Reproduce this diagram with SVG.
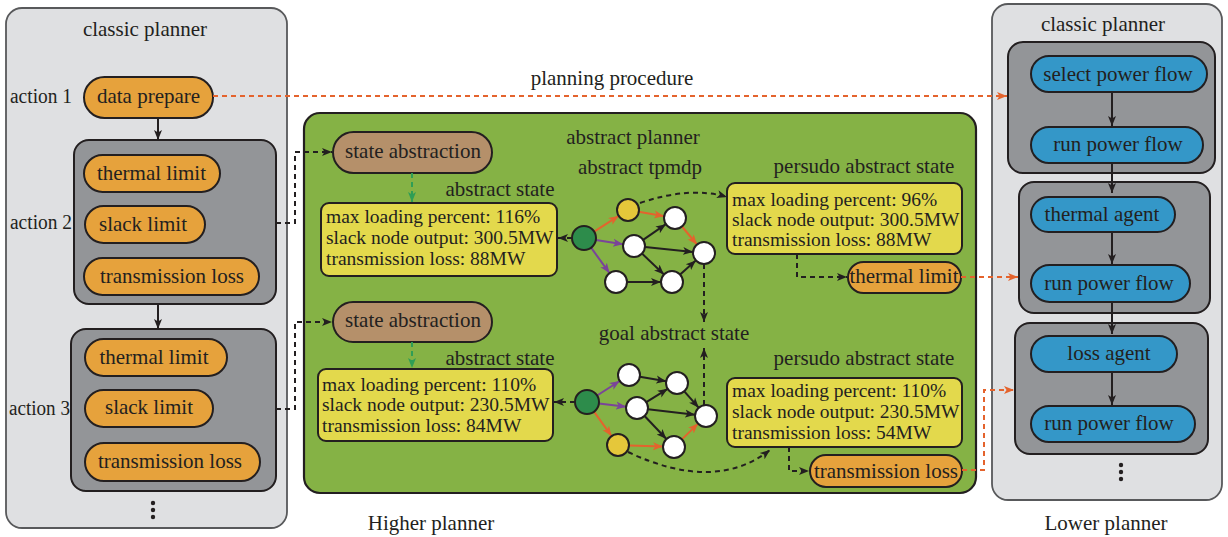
<svg xmlns="http://www.w3.org/2000/svg" width="1228" height="537" viewBox="0 0 1228 537">
  <style>
    text { font-family: "Liberation Serif", "Times New Roman", serif; fill: #231f20; }
    .lbl { font-size: 21px; }
    .act { font-size: 20px; }
    .mid { text-anchor: middle; }
    .info { font-size: 19.5px; }
    .panel { fill: #dfe0e2; stroke: #58595b; stroke-width: 1.8; }
    .gbox { fill: #939598; stroke: #231f20; stroke-width: 2; }
    .orange { fill: #e6a23c; stroke: #231f20; stroke-width: 2; }
    .blue { fill: #3497c8; stroke: #231f20; stroke-width: 2; }
    .brown { fill: #b5906a; stroke: #231f20; stroke-width: 2; }
    .yellow { fill: #e3d94c; stroke: #231f20; stroke-width: 2; }
    .green { fill: #85b245; stroke: #231f20; stroke-width: 2.2; }
    .node { fill: #ffffff; stroke: #231f20; stroke-width: 2; }
    .start { fill: #2d8c4b; stroke: #231f20; stroke-width: 2; }
    .mark { fill: #e5c73a; stroke: #231f20; stroke-width: 2; }
    .solid { fill: none; stroke: #231f20; stroke-width: 2; marker-end: url(#ah-black); }
    .dash { fill: none; stroke: #231f20; stroke-width: 2; stroke-dasharray: 5 4; marker-end: url(#ah-black); }
    .odash { fill: none; stroke: #e4632d; stroke-width: 2; stroke-dasharray: 5 4; marker-end: url(#ah-orange); }
    .gdash { fill: none; stroke: #2f9e55; stroke-width: 2; stroke-dasharray: 5 4; marker-end: url(#ah-green); }
    .e-black { fill: none; stroke: #231f20; stroke-width: 2; marker-end: url(#ah-black); }
    .e-orange { fill: none; stroke: #e4632d; stroke-width: 2; marker-end: url(#ah-orange); }
    .e-purple { fill: none; stroke: #7a4499; stroke-width: 2; marker-end: url(#ah-purple); }
    .dot { fill: #231f20; }
  </style>
  <defs>
    <marker id="ah-black" markerUnits="userSpaceOnUse" markerWidth="10" markerHeight="10" viewBox="0 0 10 10" refX="10" refY="5" orient="auto">
      <path d="M0,1 L10,5 L0,9 L2.5,5 Z" fill="#231f20"/>
    </marker>
    <marker id="ah-orange" markerUnits="userSpaceOnUse" markerWidth="10" markerHeight="10" viewBox="0 0 10 10" refX="10" refY="5" orient="auto">
      <path d="M0,1 L10,5 L0,9 L2.5,5 Z" fill="#e4632d"/>
    </marker>
    <marker id="ah-green" markerUnits="userSpaceOnUse" markerWidth="10" markerHeight="10" viewBox="0 0 10 10" refX="10" refY="5" orient="auto">
      <path d="M0,1 L10,5 L0,9 L2.5,5 Z" fill="#2f9e55"/>
    </marker>
    <marker id="ah-purple" markerUnits="userSpaceOnUse" markerWidth="10" markerHeight="10" viewBox="0 0 10 10" refX="10" refY="5" orient="auto">
      <path d="M0,1 L10,5 L0,9 L2.5,5 Z" fill="#7a4499"/>
    </marker>
  </defs>

  <!-- Higher planner: classic planner column -->
  <g id="left-planner">
    <rect class="panel" x="6" y="8" width="281" height="520" rx="16"/>
    <text class="lbl mid" x="145" y="36">classic planner</text>
    <text class="act" x="10" y="103" textLength="62" lengthAdjust="spacingAndGlyphs">action 1</text>
    <text class="act" x="10" y="229" textLength="62" lengthAdjust="spacingAndGlyphs">action 2</text>
    <text class="act" x="9" y="415" textLength="61" lengthAdjust="spacingAndGlyphs">action 3</text>
    <circle class="dot" cx="153" cy="503" r="2.2"/>
    <circle class="dot" cx="153" cy="510" r="2.2"/>
    <circle class="dot" cx="153" cy="517" r="2.2"/>
  </g>
  <g id="data-prepare">
    <rect class="orange" x="84" y="77" width="129" height="41" rx="20.5"/>
    <text class="lbl mid" x="148.5" y="103">data prepare</text>
  </g>
  <g id="action2">
    <rect class="gbox" x="74" y="140" width="202" height="164" rx="15"/>
    <rect class="orange" x="84" y="155" width="136" height="37" rx="18.5"/>
    <text class="lbl mid" x="151.5" y="180">thermal limit</text>
    <rect class="orange" x="85" y="206" width="120" height="37" rx="18.5"/>
    <text class="lbl mid" x="143" y="231">slack limit</text>
    <rect class="orange" x="84" y="258" width="175" height="37" rx="18.5"/>
    <text class="lbl mid" x="172" y="283">transmission loss</text>
  </g>
  <g id="action3">
    <rect class="gbox" x="71" y="329" width="205" height="162" rx="15"/>
    <rect class="orange" x="85" y="339" width="142" height="37" rx="18.5"/>
    <text class="lbl mid" x="154" y="364">thermal limit</text>
    <rect class="orange" x="85" y="390" width="128" height="37" rx="18.5"/>
    <text class="lbl mid" x="149" y="414">slack limit</text>
    <rect class="orange" x="85" y="443" width="175" height="38" rx="19"/>
    <text class="lbl mid" x="170" y="468">transmission loss</text>
  </g>

  <!-- Abstract planner -->
  <g id="abstract-planner">
    <rect class="green" x="304" y="113" width="672" height="380" rx="16"/>
    <text class="lbl mid" x="633" y="144">abstract planner</text>
    <text class="lbl mid" x="640" y="174">abstract tpmdp</text>
    <text class="lbl mid" x="864" y="173">persudo abstract state</text>
    <text class="lbl mid" x="500" y="196">abstract state</text>
    <text class="lbl mid" x="674" y="340">goal abstract state</text>
    <text class="lbl mid" x="500" y="365">abstract state</text>
    <text class="lbl mid" x="864" y="365">persudo abstract state</text>
  </g>
  <g id="state-abstraction-1">
    <rect class="brown" x="333" y="132" width="159" height="41" rx="20.5"/>
    <text class="lbl mid" x="413" y="158">state abstraction</text>
  </g>
  <g id="state-abstraction-2">
    <rect class="brown" x="333" y="302" width="159" height="40" rx="20"/>
    <text class="lbl mid" x="413" y="327">state abstraction</text>
  </g>
  <g id="abstract-state-1">
    <rect class="yellow" x="321" y="203" width="236" height="73" rx="8"/>
    <text class="info" x="326" y="223">max loading percent: 116%</text>
    <text class="info" x="326" y="244">slack node output: 300.5MW</text>
    <text class="info" x="326" y="265">transmission loss: 88MW</text>
  </g>
  <g id="abstract-state-2">
    <rect class="yellow" x="318" y="369" width="235" height="72" rx="8"/>
    <text class="info" x="322" y="391">max loading percent: 110%</text>
    <text class="info" x="322" y="411">slack node output: 230.5MW</text>
    <text class="info" x="322" y="432">transmission loss: 84MW</text>
  </g>
  <g id="persudo-state-1">
    <rect class="yellow" x="727" y="183" width="235" height="71" rx="8"/>
    <text class="info" x="732" y="206">max loading percent: 96%</text>
    <text class="info" x="732" y="226">slack node output: 300.5MW</text>
    <text class="info" x="732" y="246">transmission loss: 88MW</text>
  </g>
  <g id="persudo-state-2">
    <rect class="yellow" x="727" y="378" width="235" height="69" rx="8"/>
    <text class="info" x="732" y="397">max loading percent: 110%</text>
    <text class="info" x="732" y="418">slack node output: 230.5MW</text>
    <text class="info" x="732" y="439">transmission loss: 54MW</text>
  </g>
  <g id="thermal-limit-out">
    <rect class="orange" x="848" y="262" width="113" height="31" rx="15.5"/>
    <text class="lbl mid" x="904" y="283">thermal limit</text>
  </g>
  <g id="transmission-loss-out">
    <rect class="orange" x="810" y="455" width="152" height="32" rx="16"/>
    <text class="lbl mid" x="886" y="478">transmission loss</text>
  </g>

  <!-- tpmdp graph, upper -->
  <g id="tpmdp-1">
    <path class="e-orange" d="M594.1,231.6 L618.7,215.9"/>
    <path class="e-purple" d="M595.9,239.9 L623.1,244.3"/>
    <path class="e-purple" d="M591.1,247.7 L609.5,273.1"/>
    <path class="e-orange" d="M638.8,211.8 L664.2,216.2"/>
    <path class="e-orange" d="M682,226.5 L697,244.5"/>
    <path class="e-black" d="M643.1,239.8 L665.9,224.2"/>
    <path class="e-black" d="M645,247.1 L693,251.9"/>
    <path class="e-black" d="M642,253.6 L664,274.4"/>
    <path class="e-black" d="M627,282 L661,282"/>
    <path class="e-black" d="M680.1,274.6 L695.8,260.4"/>
    <circle class="start" cx="584" cy="238" r="12"/>
    <circle class="mark" cx="628" cy="210" r="11"/>
    <circle class="node" cx="675" cy="218" r="11"/>
    <circle class="node" cx="634" cy="246" r="11"/>
    <circle class="node" cx="704" cy="253" r="11"/>
    <circle class="node" cx="672" cy="282" r="11"/>
    <circle class="node" cx="616" cy="282" r="11"/>
  </g>

  <!-- tpmdp graph, lower -->
  <g id="tpmdp-2">
    <path class="e-purple" d="M597.1,395.5 L619.7,381"/>
    <path class="e-purple" d="M598.9,403.4 L626.1,406.7"/>
    <path class="e-orange" d="M594,411.7 L611.6,436.1"/>
    <path class="e-black" d="M639.8,376.8 L666.2,381.2"/>
    <path class="e-black" d="M646.3,402.2 L667.7,388.8"/>
    <path class="e-black" d="M647.9,409.3 L695.1,414.7"/>
    <path class="e-black" d="M644.6,416 L666.4,439"/>
    <path class="e-black" d="M684.3,391.3 L698.7,407.7"/>
    <path class="e-orange" d="M629,445.4 L663,446.6"/>
    <path class="e-orange" d="M681.9,439.4 L698.1,423.6"/>
    <circle class="start" cx="587" cy="402" r="12"/>
    <circle class="node" cx="629" cy="375" r="11"/>
    <circle class="node" cx="677" cy="383" r="11"/>
    <circle class="node" cx="637" cy="408" r="11"/>
    <circle class="node" cx="706" cy="416" r="11"/>
    <circle class="node" cx="674" cy="447" r="11"/>
    <circle class="mark" cx="618" cy="445" r="11"/>
  </g>

  <!-- Lower planner -->
  <g id="right-planner">
    <rect class="panel" x="992" y="4" width="230" height="496" rx="16"/>
    <text class="lbl mid" x="1103" y="31">classic planner</text>
    <circle class="dot" cx="1121" cy="465" r="2.2"/>
    <circle class="dot" cx="1121" cy="472" r="2.2"/>
    <circle class="dot" cx="1121" cy="479" r="2.2"/>
  </g>
  <g id="power-flow-block">
    <rect class="gbox" x="1008" y="42" width="207" height="131" rx="15"/>
    <rect class="blue" x="1031" y="56" width="176" height="36" rx="18"/>
    <text class="lbl mid" x="1118" y="81">select power flow</text>
    <rect class="blue" x="1031" y="127" width="172" height="36" rx="18"/>
    <text class="lbl mid" x="1118" y="151">run power flow</text>
  </g>
  <g id="thermal-agent-block">
    <rect class="gbox" x="1019" y="182" width="191" height="131" rx="15"/>
    <rect class="blue" x="1031" y="197" width="144" height="35" rx="17.5"/>
    <text class="lbl mid" x="1102" y="221">thermal agent</text>
    <rect class="blue" x="1031" y="265" width="159" height="37" rx="18.5"/>
    <text class="lbl mid" x="1109" y="290">run power flow</text>
  </g>
  <g id="loss-agent-block">
    <rect class="gbox" x="1015" y="323" width="193" height="131" rx="15"/>
    <rect class="blue" x="1031" y="336" width="146" height="36" rx="18"/>
    <text class="lbl mid" x="1109" y="360">loss agent</text>
    <rect class="blue" x="1031" y="406" width="164" height="36" rx="18"/>
    <text class="lbl mid" x="1109" y="430">run power flow</text>
  </g>

  <!-- Captions -->
  <g id="captions">
    <text class="lbl mid" x="612" y="85">planning procedure</text>
    <text class="lbl mid" x="431" y="530">Higher planner</text>
    <text class="lbl mid" x="1106" y="530">Lower planner</text>
  </g>

  <!-- Connectors -->
  <g id="connectors">
    <path class="solid" d="M158,118 V140"/>
    <path class="solid" d="M158,304 V329"/>
    <path class="dash" d="M276,223 H295 V152 H332"/>
    <path class="dash" d="M276,409 H295 V322 H332"/>
    <path class="gdash" d="M412,173 V202"/>
    <path class="gdash" d="M412,342 V368"/>
    <path class="dash" d="M572,238 H558"/>
    <path class="dash" d="M575,402 H554"/>
    <path class="dash" d="M640,203 Q690,186 727,197"/>
    <path class="dash" d="M628,452 Q715,493 770,450"/>
    <path class="dash" d="M704,264 V322"/>
    <path class="dash" d="M704,405 V348"/>
    <path class="dash" d="M797,254 V277 H847"/>
    <path class="dash" d="M789,447 V471 H809"/>
    <path class="odash" d="M213,96 H1007"/>
    <path class="odash" d="M961,277 H1018"/>
    <path class="odash" d="M962,470 H984 V390 H1014"/>
    <path class="solid" d="M1112,92 V126"/>
    <path class="solid" d="M1112,163 V193"/>
    <path class="solid" d="M1112,232 V264"/>
    <path class="solid" d="M1112,302 V334"/>
    <path class="solid" d="M1112,372 V405"/>
  </g>
</svg>
